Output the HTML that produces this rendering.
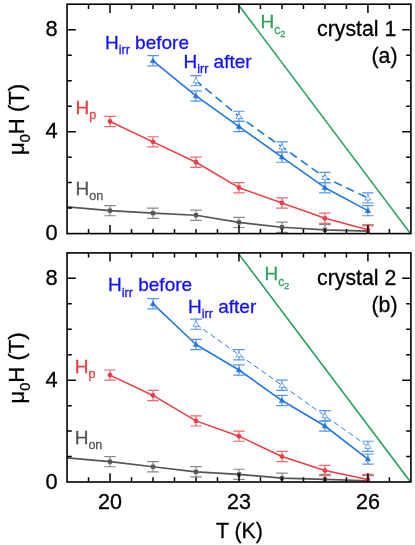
<!DOCTYPE html>
<html><head><meta charset="utf-8"><title>H-T phase diagram</title>
<style>
html,body{margin:0;padding:0;background:#fff;}
svg{display:block;font-family:"Liberation Sans",sans-serif;will-change:transform;}
text{stroke-width:0.3px;stroke:#000;}
text[fill="#1111ff"]{stroke:#1111ff;}
text[fill="#ea3c44"]{stroke:#ea3c44;}
text[fill="#555555"]{stroke:#555555;}
text[fill="#2ca25f"]{stroke:#2ca25f;}
</style></head><body>
<svg width="415" height="545" viewBox="0 0 415 545">
<rect width="415" height="545" fill="#fff"/>
<g>
<clipPath id="ca"><rect x="67.05" y="4.20" width="343.84" height="229.40"/></clipPath>
<g clip-path="url(#ca)">
<polyline points="237.97,4.20 410.49,233.60" fill="none" stroke="#2ca25f" stroke-width="1.6" stroke-linejoin="round"/>
<polyline points="67.05,206.84 110.03,210.66 153.01,213.21 195.99,215.25 238.97,222.38 281.95,227.23 324.93,229.78 367.91,231.05" fill="none" stroke="#555555" stroke-width="1.7" stroke-linejoin="round"/>
<path d="M110.03 205.57V215.75M104.23 205.57H115.83M104.23 215.75H115.83" stroke="#8a8a8a" stroke-width="1.2" fill="none"/>
<rect x="107.93" y="208.56" width="4.2" height="4.2" fill="#555555"/>
<path d="M153.01 208.11V218.30M147.21 208.11H158.81M147.21 218.30H158.81" stroke="#8a8a8a" stroke-width="1.2" fill="none"/>
<rect x="150.91" y="211.11" width="4.2" height="4.2" fill="#555555"/>
<path d="M195.99 210.15V220.34M190.19 210.15H201.79M190.19 220.34H201.79" stroke="#8a8a8a" stroke-width="1.2" fill="none"/>
<rect x="193.89" y="213.15" width="4.2" height="4.2" fill="#555555"/>
<path d="M238.97 217.29V227.48M233.17 217.29H244.77M233.17 227.48H244.77" stroke="#8a8a8a" stroke-width="1.2" fill="none"/>
<rect x="236.87" y="220.28" width="4.2" height="4.2" fill="#555555"/>
<path d="M281.95 222.13V232.32M276.15 222.13H287.75M276.15 232.32H287.75" stroke="#8a8a8a" stroke-width="1.2" fill="none"/>
<rect x="279.85" y="225.13" width="4.2" height="4.2" fill="#555555"/>
<path d="M324.93 224.68V234.87M319.13 224.68H330.73M319.13 234.87H330.73" stroke="#8a8a8a" stroke-width="1.2" fill="none"/>
<rect x="322.83" y="227.68" width="4.2" height="4.2" fill="#555555"/>
<path d="M367.91 225.96V236.15M362.11 225.96H373.71M362.11 236.15H373.71" stroke="#8a8a8a" stroke-width="1.2" fill="none"/>
<rect x="365.81" y="228.95" width="4.2" height="4.2" fill="#555555"/>
<polyline points="110.03,121.45 153.01,141.84 195.99,162.23 238.97,187.72 281.95,203.01 324.93,218.31 367.91,229.78" fill="none" stroke="#ea3c44" stroke-width="1.5" stroke-linejoin="round"/>
<path d="M110.03 116.35V126.54M104.23 116.35H115.83M104.23 126.54H115.83" stroke="#ee6a6e" stroke-width="1.2" fill="none"/>
<circle cx="110.03" cy="121.45" r="2.4" fill="#ea3c44"/>
<path d="M153.01 136.75V146.93M147.21 136.75H158.81M147.21 146.93H158.81" stroke="#ee6a6e" stroke-width="1.2" fill="none"/>
<circle cx="153.01" cy="141.84" r="2.4" fill="#ea3c44"/>
<path d="M195.99 157.14V167.33M190.19 157.14H201.79M190.19 167.33H201.79" stroke="#ee6a6e" stroke-width="1.2" fill="none"/>
<circle cx="195.99" cy="162.23" r="2.4" fill="#ea3c44"/>
<path d="M238.97 182.63V192.81M233.17 182.63H244.77M233.17 192.81H244.77" stroke="#ee6a6e" stroke-width="1.2" fill="none"/>
<circle cx="238.97" cy="187.72" r="2.4" fill="#ea3c44"/>
<path d="M281.95 197.92V208.11M276.15 197.92H287.75M276.15 208.11H287.75" stroke="#ee6a6e" stroke-width="1.2" fill="none"/>
<circle cx="281.95" cy="203.01" r="2.4" fill="#ea3c44"/>
<path d="M324.93 213.21V223.40M319.13 213.21H330.73M319.13 223.40H330.73" stroke="#ee6a6e" stroke-width="1.2" fill="none"/>
<circle cx="324.93" cy="218.31" r="2.4" fill="#ea3c44"/>
<path d="M367.91 224.68V234.87M362.11 224.68H373.71M362.11 234.87H373.71" stroke="#ee6a6e" stroke-width="1.2" fill="none"/>
<circle cx="367.91" cy="229.78" r="2.4" fill="#ea3c44"/>
<polyline points="195.99,80.67 238.97,116.35 281.95,146.94 324.93,177.52 367.91,197.92" fill="none" stroke="#2277e0" stroke-width="1.6" stroke-dasharray="8.3 5.0" stroke-dashoffset="1.2" stroke-linejoin="round"/>
<path d="M195.99 75.57V85.76M190.19 75.57H201.79M190.19 85.76H201.79" stroke="#5797ea" stroke-width="1.2" fill="none"/>
<path d="M195.99 77.82L198.99 82.71H192.99Z" fill="#fff" stroke="#4d90e8" stroke-width="0.8"/>
<path d="M238.97 111.26V121.45M233.17 111.26H244.77M233.17 121.45H244.77" stroke="#5797ea" stroke-width="1.2" fill="none"/>
<path d="M238.97 113.50L241.97 118.39H235.97Z" fill="#fff" stroke="#4d90e8" stroke-width="0.8"/>
<path d="M281.95 141.84V152.03M276.15 141.84H287.75M276.15 152.03H287.75" stroke="#5797ea" stroke-width="1.2" fill="none"/>
<path d="M281.95 144.09L284.95 148.98H278.95Z" fill="#fff" stroke="#4d90e8" stroke-width="0.8"/>
<path d="M324.93 172.43V182.62M319.13 172.43H330.73M319.13 182.62H330.73" stroke="#5797ea" stroke-width="1.2" fill="none"/>
<path d="M324.93 174.67L327.93 179.56H321.93Z" fill="#fff" stroke="#4d90e8" stroke-width="0.8"/>
<path d="M367.91 192.82V203.01M362.11 192.82H373.71M362.11 203.01H373.71" stroke="#5797ea" stroke-width="1.2" fill="none"/>
<path d="M367.91 195.07L370.91 199.96H364.91Z" fill="#fff" stroke="#4d90e8" stroke-width="0.8"/>
<polyline points="153.01,60.79 195.99,95.96 238.97,126.55 281.95,157.13 324.93,187.72 367.91,210.66" fill="none" stroke="#2277e0" stroke-width="1.6" stroke-linejoin="round"/>
<path d="M153.01 55.69V65.88M147.21 55.69H158.81M147.21 65.88H158.81" stroke="#5797ea" stroke-width="1.2" fill="none"/>
<path d="M153.01 58.32L155.61 62.55H150.41Z" fill="#2277e0" stroke="#2277e0" stroke-width="0.8"/>
<path d="M195.99 90.87V101.05M190.19 90.87H201.79M190.19 101.05H201.79" stroke="#5797ea" stroke-width="1.2" fill="none"/>
<path d="M195.99 93.49L198.59 97.73H193.39Z" fill="#2277e0" stroke="#2277e0" stroke-width="0.8"/>
<path d="M238.97 121.45V131.64M233.17 121.45H244.77M233.17 131.64H244.77" stroke="#5797ea" stroke-width="1.2" fill="none"/>
<path d="M238.97 124.08L241.57 128.31H236.37Z" fill="#2277e0" stroke="#2277e0" stroke-width="0.8"/>
<path d="M281.95 152.04V162.23M276.15 152.04H287.75M276.15 162.23H287.75" stroke="#5797ea" stroke-width="1.2" fill="none"/>
<path d="M281.95 154.66L284.55 158.90H279.35Z" fill="#2277e0" stroke="#2277e0" stroke-width="0.8"/>
<path d="M324.93 182.63V192.81M319.13 182.63H330.73M319.13 192.81H330.73" stroke="#5797ea" stroke-width="1.2" fill="none"/>
<path d="M324.93 185.25L327.53 189.49H322.33Z" fill="#2277e0" stroke="#2277e0" stroke-width="0.8"/>
<path d="M367.91 205.57V215.75M362.11 205.57H373.71M362.11 215.75H373.71" stroke="#5797ea" stroke-width="1.2" fill="none"/>
<path d="M367.91 208.19L370.51 212.43H365.31Z" fill="#2277e0" stroke="#2277e0" stroke-width="0.8"/>
</g>
<rect x="67.05" y="4.20" width="343.84" height="229.40" fill="none" stroke="#000" stroke-width="1.6"/>
<path d="M88.54 233.60v-4.7M88.54 4.20v4.7M110.03 233.60v-8.7M110.03 4.20v8.7M131.52 233.60v-4.7M131.52 4.20v4.7M153.01 233.60v-4.7M153.01 4.20v4.7M174.50 233.60v-4.7M174.50 4.20v4.7M195.99 233.60v-4.7M195.99 4.20v4.7M217.48 233.60v-4.7M217.48 4.20v4.7M238.97 233.60v-8.7M238.97 4.20v8.7M260.46 233.60v-4.7M260.46 4.20v4.7M281.95 233.60v-4.7M281.95 4.20v4.7M303.44 233.60v-4.7M303.44 4.20v4.7M324.93 233.60v-4.7M324.93 4.20v4.7M346.42 233.60v-4.7M346.42 4.20v4.7M367.91 233.60v-8.7M367.91 4.20v8.7M389.40 233.60v-4.7M389.40 4.20v4.7M67.05 208.11h4.7M410.89 208.11h-4.7M67.05 182.62h4.7M410.89 182.62h-4.7M67.05 157.13h4.7M410.89 157.13h-4.7M67.05 131.64h8.7M410.89 131.64h-8.7M67.05 106.16h4.7M410.89 106.16h-4.7M67.05 80.67h4.7M410.89 80.67h-4.7M67.05 55.18h4.7M410.89 55.18h-4.7M67.05 29.69h8.7M410.89 29.69h-8.7" stroke="#000" stroke-width="1.5" fill="none"/>
<text x="57.5" y="240.1" text-anchor="end" font-size="21.8">0</text>
<text x="57.5" y="138.1" text-anchor="end" font-size="21.8">4</text>
<text x="57.5" y="36.2" text-anchor="end" font-size="21.8">8</text>
<text transform="translate(24.1,119.4) rotate(-90)" text-anchor="middle" font-size="22.1">μ<tspan font-size="14.5" dy="5.6">0</tspan><tspan dy="-5.6">H (T)</tspan></text>
</g>
<g>
<clipPath id="cb"><rect x="67.05" y="252.90" width="343.84" height="229.10"/></clipPath>
<g clip-path="url(#cb)">
<polyline points="237.97,252.90 410.49,482.00" fill="none" stroke="#2ca25f" stroke-width="1.6" stroke-linejoin="round"/>
<polyline points="67.05,457.82 110.03,461.64 153.01,466.73 195.99,471.82 238.97,474.36 281.95,478.18 324.93,479.45 367.91,480.73" fill="none" stroke="#555555" stroke-width="1.7" stroke-linejoin="round"/>
<path d="M110.03 456.54V466.73M104.23 456.54H115.83M104.23 466.73H115.83" stroke="#8a8a8a" stroke-width="1.2" fill="none"/>
<rect x="107.93" y="459.54" width="4.2" height="4.2" fill="#555555"/>
<path d="M153.01 461.63V471.82M147.21 461.63H158.81M147.21 471.82H158.81" stroke="#8a8a8a" stroke-width="1.2" fill="none"/>
<rect x="150.91" y="464.63" width="4.2" height="4.2" fill="#555555"/>
<path d="M195.99 466.72V476.91M190.19 466.72H201.79M190.19 476.91H201.79" stroke="#8a8a8a" stroke-width="1.2" fill="none"/>
<rect x="193.89" y="469.72" width="4.2" height="4.2" fill="#555555"/>
<path d="M238.97 469.27V479.46M233.17 469.27H244.77M233.17 479.46H244.77" stroke="#8a8a8a" stroke-width="1.2" fill="none"/>
<rect x="236.87" y="472.26" width="4.2" height="4.2" fill="#555555"/>
<path d="M281.95 473.09V483.28M276.15 473.09H287.75M276.15 483.28H287.75" stroke="#8a8a8a" stroke-width="1.2" fill="none"/>
<rect x="279.85" y="476.08" width="4.2" height="4.2" fill="#555555"/>
<path d="M324.93 474.36V484.55M319.13 474.36H330.73M319.13 484.55H330.73" stroke="#8a8a8a" stroke-width="1.2" fill="none"/>
<rect x="322.83" y="477.35" width="4.2" height="4.2" fill="#555555"/>
<path d="M367.91 475.63V485.82M362.11 475.63H373.71M362.11 485.82H373.71" stroke="#8a8a8a" stroke-width="1.2" fill="none"/>
<rect x="365.81" y="478.63" width="4.2" height="4.2" fill="#555555"/>
<polyline points="110.03,375.09 153.01,395.45 195.99,420.91 238.97,436.18 281.95,456.54 324.93,470.55 367.91,479.45" fill="none" stroke="#ea3c44" stroke-width="1.5" stroke-linejoin="round"/>
<path d="M110.03 369.99V380.18M104.23 369.99H115.83M104.23 380.18H115.83" stroke="#ee6a6e" stroke-width="1.2" fill="none"/>
<circle cx="110.03" cy="375.09" r="2.4" fill="#ea3c44"/>
<path d="M153.01 390.36V400.55M147.21 390.36H158.81M147.21 400.55H158.81" stroke="#ee6a6e" stroke-width="1.2" fill="none"/>
<circle cx="153.01" cy="395.45" r="2.4" fill="#ea3c44"/>
<path d="M195.99 415.81V426.00M190.19 415.81H201.79M190.19 426.00H201.79" stroke="#ee6a6e" stroke-width="1.2" fill="none"/>
<circle cx="195.99" cy="420.91" r="2.4" fill="#ea3c44"/>
<path d="M238.97 431.09V441.27M233.17 431.09H244.77M233.17 441.27H244.77" stroke="#ee6a6e" stroke-width="1.2" fill="none"/>
<circle cx="238.97" cy="436.18" r="2.4" fill="#ea3c44"/>
<path d="M281.95 451.45V461.64M276.15 451.45H287.75M276.15 461.64H287.75" stroke="#ee6a6e" stroke-width="1.2" fill="none"/>
<circle cx="281.95" cy="456.54" r="2.4" fill="#ea3c44"/>
<path d="M324.93 465.45V475.64M319.13 465.45H330.73M319.13 475.64H330.73" stroke="#ee6a6e" stroke-width="1.2" fill="none"/>
<circle cx="324.93" cy="470.55" r="2.4" fill="#ea3c44"/>
<path d="M367.91 474.36V484.55M362.11 474.36H373.71M362.11 484.55H373.71" stroke="#ee6a6e" stroke-width="1.2" fill="none"/>
<circle cx="367.91" cy="479.45" r="2.4" fill="#ea3c44"/>
<polyline points="195.99,324.18 238.97,354.72 281.95,385.27 324.93,415.82 367.91,446.36" fill="none" stroke="#2277e0" stroke-width="0.95" stroke-dasharray="5.6 3.3" stroke-dashoffset="0" stroke-linejoin="round"/>
<path d="M195.99 319.08V329.27M190.19 319.08H201.79M190.19 329.27H201.79" stroke="#5797ea" stroke-width="1.2" fill="none"/>
<path d="M195.99 321.33L198.99 326.22H192.99Z" fill="#fff" stroke="#4d90e8" stroke-width="0.8"/>
<path d="M238.97 349.63V359.82M233.17 349.63H244.77M233.17 359.82H244.77" stroke="#5797ea" stroke-width="1.2" fill="none"/>
<path d="M238.97 351.87L241.97 356.76H235.97Z" fill="#fff" stroke="#4d90e8" stroke-width="0.8"/>
<path d="M281.95 380.17V390.36M276.15 380.17H287.75M276.15 390.36H287.75" stroke="#5797ea" stroke-width="1.2" fill="none"/>
<path d="M281.95 382.42L284.95 387.31H278.95Z" fill="#fff" stroke="#4d90e8" stroke-width="0.8"/>
<path d="M324.93 410.72V420.91M319.13 410.72H330.73M319.13 420.91H330.73" stroke="#5797ea" stroke-width="1.2" fill="none"/>
<path d="M324.93 412.97L327.93 417.86H321.93Z" fill="#fff" stroke="#4d90e8" stroke-width="0.8"/>
<path d="M367.91 441.27V451.46M362.11 441.27H373.71M362.11 451.46H373.71" stroke="#5797ea" stroke-width="1.2" fill="none"/>
<path d="M367.91 443.51L370.91 448.40H364.91Z" fill="#fff" stroke="#4d90e8" stroke-width="0.8"/>
<polyline points="153.01,303.81 195.99,344.54 238.97,370.00 281.95,400.54 324.93,426.00 367.91,459.09" fill="none" stroke="#2277e0" stroke-width="1.6" stroke-linejoin="round"/>
<path d="M153.01 298.72V308.91M147.21 298.72H158.81M147.21 308.91H158.81" stroke="#5797ea" stroke-width="1.2" fill="none"/>
<path d="M153.01 301.34L155.61 305.58H150.41Z" fill="#2277e0" stroke="#2277e0" stroke-width="0.8"/>
<path d="M195.99 339.45V349.63M190.19 339.45H201.79M190.19 349.63H201.79" stroke="#5797ea" stroke-width="1.2" fill="none"/>
<path d="M195.99 342.07L198.59 346.31H193.39Z" fill="#2277e0" stroke="#2277e0" stroke-width="0.8"/>
<path d="M238.97 364.90V375.09M233.17 364.90H244.77M233.17 375.09H244.77" stroke="#5797ea" stroke-width="1.2" fill="none"/>
<path d="M238.97 367.53L241.57 371.76H236.37Z" fill="#2277e0" stroke="#2277e0" stroke-width="0.8"/>
<path d="M281.95 395.45V405.64M276.15 395.45H287.75M276.15 405.64H287.75" stroke="#5797ea" stroke-width="1.2" fill="none"/>
<path d="M281.95 398.07L284.55 402.31H279.35Z" fill="#2277e0" stroke="#2277e0" stroke-width="0.8"/>
<path d="M324.93 420.90V431.09M319.13 420.90H330.73M319.13 431.09H330.73" stroke="#5797ea" stroke-width="1.2" fill="none"/>
<path d="M324.93 423.53L327.53 427.77H322.33Z" fill="#2277e0" stroke="#2277e0" stroke-width="0.8"/>
<path d="M367.91 454.00V464.18M362.11 454.00H373.71M362.11 464.18H373.71" stroke="#5797ea" stroke-width="1.2" fill="none"/>
<path d="M367.91 456.62L370.51 460.86H365.31Z" fill="#2277e0" stroke="#2277e0" stroke-width="0.8"/>
</g>
<rect x="67.05" y="252.90" width="343.84" height="229.10" fill="none" stroke="#000" stroke-width="1.6"/>
<path d="M88.54 482.00v-4.7M88.54 252.90v4.7M110.03 482.00v-8.7M110.03 252.90v8.7M131.52 482.00v-4.7M131.52 252.90v4.7M153.01 482.00v-4.7M153.01 252.90v4.7M174.50 482.00v-4.7M174.50 252.90v4.7M195.99 482.00v-4.7M195.99 252.90v4.7M217.48 482.00v-4.7M217.48 252.90v4.7M238.97 482.00v-8.7M238.97 252.90v8.7M260.46 482.00v-4.7M260.46 252.90v4.7M281.95 482.00v-4.7M281.95 252.90v4.7M303.44 482.00v-4.7M303.44 252.90v4.7M324.93 482.00v-4.7M324.93 252.90v4.7M346.42 482.00v-4.7M346.42 252.90v4.7M367.91 482.00v-8.7M367.91 252.90v8.7M389.40 482.00v-4.7M389.40 252.90v4.7M67.05 456.54h4.7M410.89 456.54h-4.7M67.05 431.09h4.7M410.89 431.09h-4.7M67.05 405.63h4.7M410.89 405.63h-4.7M67.05 380.18h8.7M410.89 380.18h-8.7M67.05 354.72h4.7M410.89 354.72h-4.7M67.05 329.27h4.7M410.89 329.27h-4.7M67.05 303.81h4.7M410.89 303.81h-4.7M67.05 278.36h8.7M410.89 278.36h-8.7" stroke="#000" stroke-width="1.5" fill="none"/>
<text x="57.5" y="488.5" text-anchor="end" font-size="21.8">0</text>
<text x="57.5" y="386.7" text-anchor="end" font-size="21.8">4</text>
<text x="57.5" y="284.9" text-anchor="end" font-size="21.8">8</text>
<text transform="translate(24.1,367.9) rotate(-90)" text-anchor="middle" font-size="22.1">μ<tspan font-size="14.5" dy="5.6">0</tspan><tspan dy="-5.6">H (T)</tspan></text>
</g>
<text x="110.0" y="508.7" text-anchor="middle" font-size="21.5">20</text>
<text x="239.0" y="508.7" text-anchor="middle" font-size="21.5">23</text>
<text x="367.9" y="508.7" text-anchor="middle" font-size="21.5">26</text>
<text x="239.4" y="537.8" text-anchor="middle" font-size="21.3">T (K)</text>
<text x="105" y="48.6" font-size="19.0" fill="#1111ff">H<tspan font-size="12.5" dy="5.4">irr</tspan><tspan dy="-5.4"> before</tspan></text>
<text x="183.5" y="68" font-size="19.0" fill="#1111ff">H<tspan font-size="12.5" dy="5.4">irr</tspan><tspan dy="-5.4"> after</tspan></text>
<text x="75.6" y="113.7" font-size="19.0" fill="#ea3c44">H<tspan font-size="12.5" dy="5.4">p</tspan></text>
<text x="75.6" y="194.5" font-size="19.0" fill="#555555">H<tspan font-size="12.5" dy="5.4">on</tspan></text>
<text x="260.5" y="27.6" font-size="19.0" fill="#2ca25f">H<tspan font-size="12" dy="6.0">c</tspan><tspan font-size="9" dy="3.0">2</tspan></text>
<text x="396.3" y="35.6" font-size="21.3" text-anchor="end">crystal 1</text>
<text x="397.5" y="62.7" font-size="21.3" text-anchor="end">(a)</text>
<text x="108.1" y="291.3" font-size="19.0" fill="#1111ff">H<tspan font-size="12.5" dy="5.4">irr</tspan><tspan dy="-5.4"> before</tspan></text>
<text x="188.1" y="312.9" font-size="19.0" fill="#1111ff">H<tspan font-size="12.5" dy="5.4">irr</tspan><tspan dy="-5.4"> after</tspan></text>
<text x="74.7" y="372.9" font-size="19.0" fill="#ea3c44">H<tspan font-size="12.5" dy="5.4">p</tspan></text>
<text x="74.7" y="443.9" font-size="19.0" fill="#555555">H<tspan font-size="12.5" dy="5.4">on</tspan></text>
<text x="264.5" y="279.7" font-size="19.0" fill="#2ca25f">H<tspan font-size="12" dy="6.0">c</tspan><tspan font-size="9" dy="3.0">2</tspan></text>
<text x="396.3" y="284.6" font-size="21.3" text-anchor="end">crystal 2</text>
<text x="397.5" y="311.7" font-size="21.3" text-anchor="end">(b)</text>
</svg>
</body></html>
